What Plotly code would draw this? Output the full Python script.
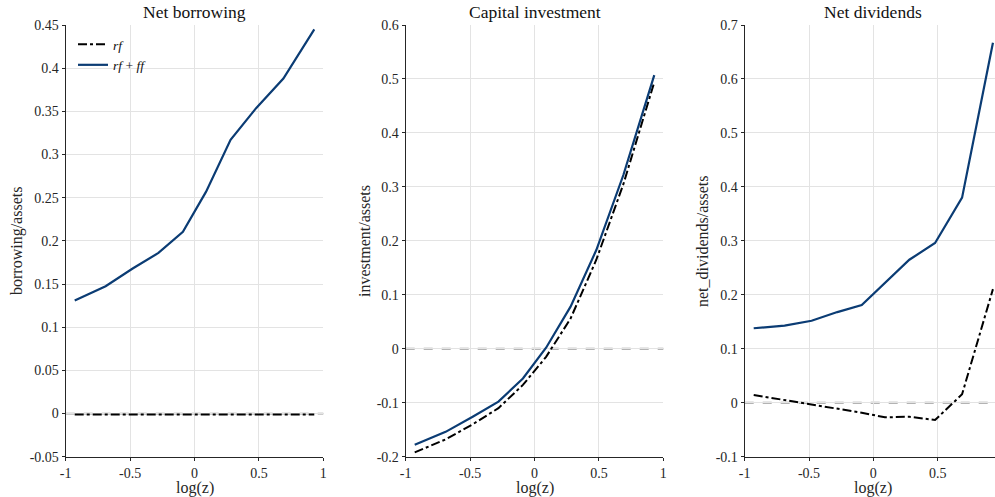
import plotly.graph_objects as go

# ---- data ----
log_z = [-0.93, -0.69, -0.48, -0.28, -0.09, 0.09, 0.28, 0.48, 0.69, 0.93]

borrow_rf = [-0.001, -0.001, -0.001, -0.001, -0.001, -0.001, -0.001, -0.001, -0.001, -0.001]
borrow_rfff = [0.131, 0.1475, 0.168, 0.186, 0.2105, 0.257, 0.317, 0.354, 0.388, 0.445]

invest_rf = [-0.192, -0.168, -0.140, -0.110, -0.067, -0.015, 0.056, 0.165, 0.305, 0.494]
invest_rfff = [-0.178, -0.154, -0.126, -0.098, -0.055, 0.002, 0.078, 0.183, 0.322, 0.507]

div_rf = [0.0143, 0.005, -0.004, -0.0105, -0.0185, -0.027, -0.026, -0.032, 0.0156, 0.2105]
div_rfff = [0.138, 0.143, 0.152, 0.168, 0.181, 0.222, 0.265, 0.296, 0.380, 0.667]

titles = ["Net borrowing", "Capital investment", "Net dividends"]
ylabels = ["borrowing/assets", "investment/assets", "net_dividends/assets"]
xlabel = "log(z)"

x_ticks = [-1, -0.5, 0, 0.5, 1]
x_ticktext = ["-1", "-0.5", "0", "0.5", "1"]

y1_ticks = [-0.05, 0, 0.05, 0.1, 0.15, 0.2, 0.25, 0.3, 0.35, 0.4, 0.45]
y1_ticktext = ["-0.05", "0", "0.05", "0.1", "0.15", "0.2", "0.25", "0.3", "0.35", "0.4", "0.45"]
y2_ticks = [-0.2, -0.1, 0, 0.1, 0.2, 0.3, 0.4, 0.5, 0.6]
y2_ticktext = ["-0.2", "-0.1", "0", "0.1", "0.2", "0.3", "0.4", "0.5", "0.6"]
y3_ticks = [-0.1, 0, 0.1, 0.2, 0.3, 0.4, 0.5, 0.6, 0.7]
y3_ticktext = ["-0.1", "0", "0.1", "0.2", "0.3", "0.4", "0.5", "0.6", "0.7"]

BLUE = "#0b3c74"
BLACK = "#000000"
FONT = "Liberation Serif"
W, H = 995, 497

fig = go.Figure()

panels = [
    (borrow_rf, borrow_rfff, "x", "y"),
    (invest_rf, invest_rfff, "x2", "y2"),
    (div_rf, div_rfff, "x3", "y3"),
]
for i, (rf, rfff, xa, ya) in enumerate(panels):
    fig.add_trace(go.Scatter(x=log_z, y=rf, mode="lines", xaxis=xa, yaxis=ya,
                             name="<i>rf</i>", showlegend=(i == 0),
                             line=dict(color=BLACK, width=2, dash="dashdot")))
    fig.add_trace(go.Scatter(x=log_z, y=rfff, mode="lines", xaxis=xa, yaxis=ya,
                             name="<i>rf</i> + <i>ff</i>", showlegend=(i == 0),
                             line=dict(color=BLUE, width=2.2)))

# domains in pixels
xdoms = [(65.7, 323.3), (405.7, 663.3), (744.7, 995.0)]
ytop, ybot = 25.0, 456.7
ydom = [1 - ybot / H, 1 - ytop / H]
xranges = [[-1, 1], [-1, 1], [-1, 0.946]]
yranges = [[-0.05, 0.45], [-0.2, 0.6], [-0.1, 0.7]]
yticks = [(y1_ticks, y1_ticktext), (y2_ticks, y2_ticktext), (y3_ticks, y3_ticktext)]
ytitle_x = [17, 365, 703]

axis_common = dict(
    showgrid=True, gridcolor="#e3e3e3", gridwidth=1,
    showline=True, linecolor="#262626", linewidth=1.2,
    ticks="outside", ticklen=3, tickcolor="#262626",
    tickfont=dict(family=FONT, size=14, color="#262626"),
    zeroline=False, mirror=False, automargin=False,
)
label_font = dict(family=FONT, size=16, color="#262626")

for i in range(3):
    sfx = "" if i == 0 else str(i + 1)
    fig.layout["xaxis" + sfx] = dict(
        domain=[xdoms[i][0] / W, xdoms[i][1] / W], range=xranges[i],
        anchor="y" + sfx, tickvals=x_ticks, ticktext=x_ticktext,
        **axis_common)
    fig.layout["yaxis" + sfx] = dict(
        domain=ydom, range=yranges[i], anchor="x" + sfx,
        tickvals=yticks[i][0], ticktext=yticks[i][1],
        **axis_common)
    # dashed zero line
    fig.add_shape(type="line", xref=f"x{sfx} domain", yref="y" + sfx,
                  x0=0, x1=1, y0=0, y1=0, layer="below",
                  line=dict(color="#9a9a9a", width=1.8, dash="dash"))
    xc = (xdoms[i][0] + (xdoms[i][1] if i < 2 else 1001.9)) / 2 / W
    # panel title
    fig.add_annotation(text=titles[i], xref="paper", yref="paper",
                       x=xc, y=1 - 12 / H, showarrow=False,
                       xanchor="center", yanchor="middle",
                       font=dict(family=FONT, size=17.5, color="#111111"))
    # x axis title
    fig.add_annotation(text=xlabel, xref="paper", yref="paper",
                       x=xc, y=1 - 488 / H, showarrow=False,
                       xanchor="center", yanchor="middle", font=label_font)
    # y axis title
    fig.add_annotation(text=ylabels[i], xref="paper", yref="paper",
                       x=ytitle_x[i] / W, y=1 - 241 / H, showarrow=False,
                       textangle=-90, xanchor="center", yanchor="middle",
                       font=label_font)

fig.update_layout(
    width=W, height=H,
    margin=dict(l=0, r=0, t=0, b=0, autoexpand=False),
    plot_bgcolor="white", paper_bgcolor="white",
    legend=dict(x=(73) / W, y=1 - 29 / H, xanchor="left", yanchor="top",
                xref="paper", yref="paper",
                font=dict(family=FONT, size=13.5, color="#111111"),
                bgcolor="rgba(255,255,255,0)", borderwidth=0,
                tracegroupgap=0, itemwidth=30),
)

fig.write_html("out.html", config={"displayModeBar": False},
               post_script="document.body.style.margin='0';")
